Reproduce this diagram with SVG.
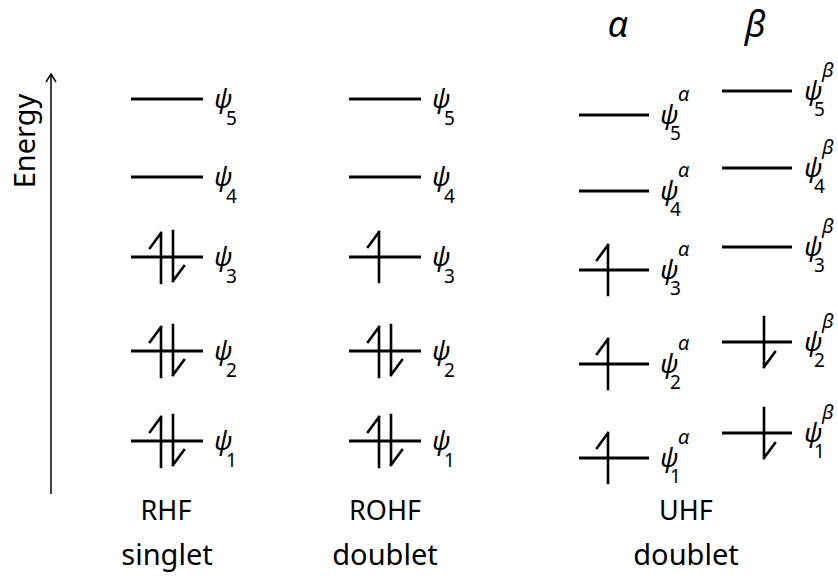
<svg xmlns="http://www.w3.org/2000/svg" width="838" height="579" viewBox="0 0 838 579">
<style>
.lv{stroke:#000;stroke-width:3;fill:none}
.ar{stroke:#000;stroke-width:2.6;fill:none;stroke-linecap:square}
.psi{font-family:"Noto Sans","Open Sans",sans-serif;font-style:italic;font-size:26px;fill:#000}
.ix{font-style:normal;font-size:19px}
.ixi{font-style:italic;font-size:20px}
.lab{font-family:"Noto Sans","Open Sans",sans-serif;font-size:27px;fill:#000;text-anchor:middle}
.lab2{font-family:"Noto Sans","Open Sans",sans-serif;font-size:29px;fill:#000;text-anchor:middle}
.hd{font-family:"Noto Sans","Open Sans",sans-serif;font-style:italic;font-size:36px;fill:#000;text-anchor:middle}
</style>
<defs>
<path id="up" class="ar" d="M0,-25 V25 M0,-25 L-11,-10"/>
<path id="dn" class="ar" d="M0,-25 V25 M0,25 L11,10"/>
</defs>
<g id="axis">
<line x1="51" y1="494" x2="51" y2="75" stroke="#000" stroke-width="1.5"/>
<path d="M46,82 L51,74 L56,82" fill="none" stroke="#000" stroke-width="1.5"/>
<text class="lab2" transform="translate(35,141) rotate(-90)">Energy</text>
</g>
<g id="headers">
<text class="hd" x="618" y="37">α</text>
<text class="hd" x="755" y="37">β</text>
</g>
<g id="RHF">
<line class="lv" x1="131" y1="99" x2="203" y2="99"/>
<line class="lv" x1="131" y1="177" x2="203" y2="177"/>
<line class="lv" x1="131" y1="257" x2="203" y2="257"/>
<line class="lv" x1="131" y1="351" x2="203" y2="351"/>
<line class="lv" x1="131" y1="441" x2="203" y2="441"/>
<use href="#up" x="161" y="258"/><use href="#dn" x="173" y="256"/>
<use href="#up" x="161" y="352"/><use href="#dn" x="173" y="350"/>
<use href="#up" x="161" y="442"/><use href="#dn" x="173" y="440"/>
<text class="psi" x="214" y="108">ψ<tspan class="ix" x="226" y="125">5</tspan></text>
<text class="psi" x="214" y="186">ψ<tspan class="ix" x="226" y="203">4</tspan></text>
<text class="psi" x="214" y="266">ψ<tspan class="ix" x="226" y="283">3</tspan></text>
<text class="psi" x="214" y="360">ψ<tspan class="ix" x="226" y="377">2</tspan></text>
<text class="psi" x="214" y="450">ψ<tspan class="ix" x="226" y="467">1</tspan></text>
<text class="lab" x="166" y="520">RHF</text>
<text class="lab2" x="167" y="565">singlet</text>
</g>
<g id="ROHF">
<line class="lv" x1="349" y1="99" x2="421" y2="99"/>
<line class="lv" x1="349" y1="177" x2="421" y2="177"/>
<line class="lv" x1="349" y1="257" x2="421" y2="257"/>
<line class="lv" x1="349" y1="351" x2="421" y2="351"/>
<line class="lv" x1="349" y1="441" x2="421" y2="441"/>
<use href="#up" x="379" y="257"/>
<use href="#up" x="379" y="352"/><use href="#dn" x="391" y="350"/>
<use href="#up" x="379" y="442"/><use href="#dn" x="391" y="440"/>
<text class="psi" x="432" y="108">ψ<tspan class="ix" x="444" y="125">5</tspan></text>
<text class="psi" x="432" y="186">ψ<tspan class="ix" x="444" y="203">4</tspan></text>
<text class="psi" x="432" y="266">ψ<tspan class="ix" x="444" y="283">3</tspan></text>
<text class="psi" x="432" y="360">ψ<tspan class="ix" x="444" y="377">2</tspan></text>
<text class="psi" x="432" y="450">ψ<tspan class="ix" x="444" y="467">1</tspan></text>
<text class="lab" x="385" y="520">ROHF</text>
<text class="lab2" x="385" y="565">doublet</text>
</g>
<g id="UHF-alpha">
<line class="lv" x1="579" y1="115" x2="649" y2="115"/>
<line class="lv" x1="579" y1="191" x2="649" y2="191"/>
<line class="lv" x1="579" y1="270" x2="649" y2="270"/>
<line class="lv" x1="579" y1="364" x2="649" y2="364"/>
<line class="lv" x1="579" y1="458" x2="649" y2="458"/>
<use href="#up" x="608" y="270"/>
<use href="#up" x="608" y="364"/>
<use href="#up" x="608" y="458"/>
<text class="psi" x="660" y="124">ψ<tspan class="ixi" x="678" y="101">α</tspan><tspan class="ix" x="670" y="140">5</tspan></text>
<text class="psi" x="660" y="200">ψ<tspan class="ixi" x="678" y="177">α</tspan><tspan class="ix" x="670" y="216">4</tspan></text>
<text class="psi" x="660" y="279">ψ<tspan class="ixi" x="678" y="256">α</tspan><tspan class="ix" x="670" y="295">3</tspan></text>
<text class="psi" x="660" y="373">ψ<tspan class="ixi" x="678" y="350">α</tspan><tspan class="ix" x="670" y="389">2</tspan></text>
<text class="psi" x="660" y="467">ψ<tspan class="ixi" x="678" y="444">α</tspan><tspan class="ix" x="670" y="483">1</tspan></text>
</g>
<g id="UHF-beta">
<line class="lv" x1="722" y1="91" x2="792" y2="91"/>
<line class="lv" x1="722" y1="168" x2="792" y2="168"/>
<line class="lv" x1="722" y1="247" x2="792" y2="247"/>
<line class="lv" x1="722" y1="342" x2="792" y2="342"/>
<line class="lv" x1="722" y1="433" x2="792" y2="433"/>
<use href="#dn" x="764" y="342"/>
<use href="#dn" x="764" y="433"/>
<text class="psi" x="804" y="100">ψ<tspan class="ixi" x="822" y="77">β</tspan><tspan class="ix" x="814" y="116">5</tspan></text>
<text class="psi" x="804" y="177">ψ<tspan class="ixi" x="822" y="154">β</tspan><tspan class="ix" x="814" y="193">4</tspan></text>
<text class="psi" x="804" y="256">ψ<tspan class="ixi" x="822" y="233">β</tspan><tspan class="ix" x="814" y="272">3</tspan></text>
<text class="psi" x="804" y="351">ψ<tspan class="ixi" x="822" y="328">β</tspan><tspan class="ix" x="814" y="367">2</tspan></text>
<text class="psi" x="804" y="442">ψ<tspan class="ixi" x="822" y="419">β</tspan><tspan class="ix" x="814" y="458">1</tspan></text>
</g>
<g id="UHF-labels">
<text class="lab" x="686" y="520">UHF</text>
<text class="lab2" x="686" y="565">doublet</text>
</g>
</svg>
